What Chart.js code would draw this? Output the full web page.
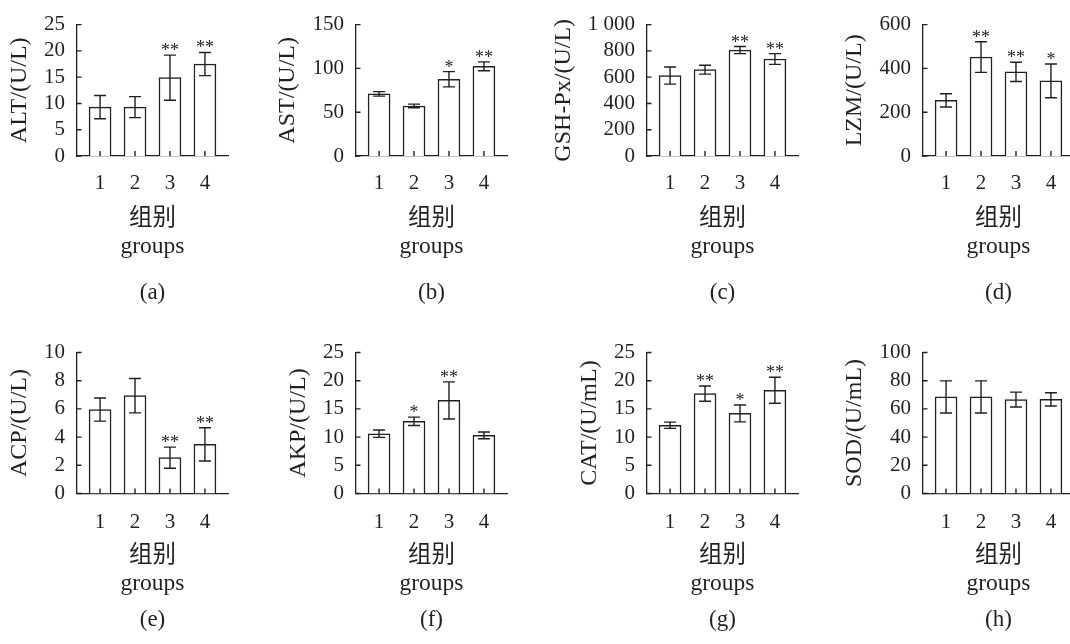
<!DOCTYPE html>
<html>
<head>
<meta charset="utf-8">
<script src="https://cdn.jsdelivr.net/npm/chart.js@4.4.0/dist/chart.umd.min.js"></script>
<style>
  html, body { margin: 0; padding: 0; background: #fff; overflow: hidden; width: 1070px; height: 644px; position: relative; }
  canvas { position: absolute; }
</style>
</head>
<body>
<script>
// groups on the x axis
const groups = [1, 2, 3, 4];

// (a) ALT
const altMean = [9.3, 9.3, 14.9, 17.5];
const altSd = [2.2, 2.0, 4.3, 2.2];
const altSig = ["", "", "**", "**"];
// (b) AST
const astMean = [70.9, 57.1, 87.6, 102.4];
const astSd = [2.6, 2.1, 8.7, 5.0];
const astSig = ["", "", "*", "**"];
// (c) GSH-Px
const gshMean = [612, 657, 806, 738];
const gshSd = [65, 34, 27, 41];
const gshSig = ["", "", "**", "**"];
// (d) LZM
const lzmMean = [254, 452, 384, 343];
const lzmSd = [30, 70, 44, 77];
const lzmSig = ["", "**", "**", "*"];
// (e) ACP
const acpMean = [5.95, 6.94, 2.54, 3.48];
const acpSd = [0.82, 1.22, 0.75, 1.18];
const acpSig = ["", "", "**", "**"];
// (f) AKP
const akpMean = [10.6, 12.8, 16.5, 10.3];
const akpSd = [0.65, 0.75, 3.3, 0.6];
const akpSig = ["", "*", "**", ""];
// (g) CAT
const catMean = [12.1, 17.7, 14.2, 18.3];
const catSd = [0.55, 1.35, 1.5, 2.3];
const catSig = ["", "**", "*", "**"];
// (h) SOD
const sodMean = [68.5, 68.5, 66.6, 66.8];
const sodSd = [11.4, 11.4, 5.3, 4.7];
const sodSig = ["", "", "", ""];

// y axis ranges [max, step]
const yMax = [25, 150, 1000, 600, 10, 25, 25, 100];
const yStep = [5, 50, 200, 200, 2, 5, 5, 20];
const yTitles = ["ALT/(U/L)", "AST/(U/L)", "GSH-Px/(U/L)", "LZM/(U/L)",
                 "ACP/(U/L)", "AKP/(U/L)", "CAT/(U/mL)", "SOD/(U/mL)"];
const panelLabels = ["(a)", "(b)", "(c)", "(d)", "(e)", "(f)", "(g)", "(h)"];
const xTitle = ["组别", "groups"];

const panels = [
  [altMean, altSd, altSig], [astMean, astSd, astSig],
  [gshMean, gshSd, gshSig], [lzmMean, lzmSd, lzmSig],
  [acpMean, acpSd, acpSig], [akpMean, akpSd, akpSig],
  [catMean, catSd, catSig], [sodMean, sodSd, sodSig],
];

const ink = "#231f20";
const serif = "'Liberation Serif', 'Times New Roman', 'Noto Sans CJK SC', serif";

// layout of the grid
const colAxisX = [77, 355.7, 646.7, 923.3];
const rows = [
  { top: 0, padTop: 15, xHeight: 123.2, xTitlePad: 18.4, labelPad: 15.2, tickPad: 15 },
  { top: 322, padTop: 30.5, xHeight: 112.7, xTitlePad: 8.7, labelPad: 10.2, tickPad: 16 },
];
const yBoxW = 100, plotW = 151;
const canvasW = yBoxW * 2 + plotW, canvasH = 322;

function fmt(v) {
  return String(v).replace(/\B(?=(\d{3})+(?!\d))/g, " ");
}

const mctx = document.createElement("canvas").getContext("2d");
mctx.font = "21px " + serif;
function widestLabel(max, step) {
  let w = 0;
  for (let v = 0; v <= max + 1e-9; v += step) w = Math.max(w, mctx.measureText(fmt(v)).width);
  return w;
}

function marksPlugin(mean, sd, sig) {
  return {
    id: "marks",
    afterDatasetsDraw(chart) {
      const { ctx, chartArea, scales: { x, y } } = chart;
      ctx.save();
      ctx.strokeStyle = ink;
      ctx.lineWidth = 1.4;
      ctx.beginPath();
      // error bars
      mean.forEach((m, i) => {
        const px = x.getPixelForValue(groups[i]);
        const top = y.getPixelForValue(m + sd[i]);
        const bot = y.getPixelForValue(m - sd[i]);
        ctx.moveTo(px, top); ctx.lineTo(px, bot);
        ctx.moveTo(px - 6, top); ctx.lineTo(px + 6, top);
        ctx.moveTo(px - 6, bot); ctx.lineTo(px + 6, bot);
      });
      // inward ticks
      y.ticks.forEach(t => {
        const py = y.getPixelForValue(t.value);
        ctx.moveTo(chartArea.left, py); ctx.lineTo(chartArea.left + 4.5, py);
      });
      x.ticks.forEach(t => {
        const px = x.getPixelForValue(t.value);
        ctx.moveTo(px, chartArea.bottom); ctx.lineTo(px, chartArea.bottom - 5);
      });
      ctx.stroke();
      // significance marks
      ctx.fillStyle = ink;
      ctx.font = "18px " + serif;
      ctx.textAlign = "center";
      ctx.textBaseline = "alphabetic";
      sig.forEach((s, i) => {
        if (!s) return;
        const px = x.getPixelForValue(groups[i]);
        const top = y.getPixelForValue(mean[i] + sd[i]);
        ctx.fillText(s, px, top + 1);
      });
      ctx.restore();
    },
  };
}

panels.forEach(([mean, sd, sig], k) => {
  const row = rows[Math.floor(k / 4)];
  const col = k % 4;
  const canvas = document.createElement("canvas");
  canvas.width = canvasW;
  canvas.height = canvasH;
  canvas.style.left = (colAxisX[col] - yBoxW) + "px";
  canvas.style.top = row.top + "px";
  document.body.appendChild(canvas);

  const lw = widestLabel(yMax[k], yStep[k]);
  const titleTop = Math.max(0, 49.1 - lw);

  new Chart(canvas.getContext("2d"), {
    type: "bar",
    data: {
      datasets: [{
        data: groups.map((g, i) => ({ x: g, y: mean[i] })),
        backgroundColor: "#ffffff",
        borderColor: ink,
        borderWidth: 1.5,
        barThickness: 22,
      }],
    },
    options: {
      responsive: false,
      animation: false,
      events: [],
      layout: { padding: { top: row.padTop, bottom: 0, left: 0, right: canvasW - yBoxW - plotW } },
      plugins: {
        legend: { display: false },
        tooltip: { enabled: false },
        title: {
          display: true,
          position: "bottom",
          fullSize: false,
          text: panelLabels[k],
          color: ink,
          font: { family: serif, size: 23, weight: "normal", lineHeight: 1.2 },
          padding: { top: 0, bottom: row.labelPad },
        },
      },
      scales: {
        x: {
          type: "linear",
          offset: false,
          min: 0.34,
          max: 4.66,
          afterBuildTicks: s => { s.ticks = groups.map(v => ({ value: v })); },
          afterFit: s => { s.height = row.xHeight; },
          grid: { display: false, drawTicks: false },
          border: { display: true, color: ink, width: 1.3 },
          ticks: {
            autoSkip: false,
            color: ink,
            padding: row.tickPad,
            font: { family: serif, size: 21 },
            callback: v => String(v),
          },
          title: {
            display: true,
            text: xTitle,
            color: ink,
            font: { family: serif, size: 23.5, lineHeight: 28 / 23.5 },
            padding: { top: 0, bottom: row.xTitlePad },
          },
        },
        y: {
          min: 0,
          max: yMax[k],
          afterFit: s => { s.width = yBoxW; },
          grid: { display: false, drawTicks: false },
          border: { display: true, color: ink, width: 1.3 },
          ticks: {
            autoSkip: false,
            stepSize: yStep[k],
            color: ink,
            padding: 12,
            font: { family: serif, size: 21 },
            callback: v => fmt(v),
          },
          title: {
            display: true,
            text: yTitles[k],
            color: ink,
            font: { family: serif, size: 24, lineHeight: 1.2 },
            padding: { top: titleTop, bottom: 0 },
          },
        },
      },
    },
    plugins: [marksPlugin(mean, sd, sig)],
  });
});
</script>
</body>
</html>
